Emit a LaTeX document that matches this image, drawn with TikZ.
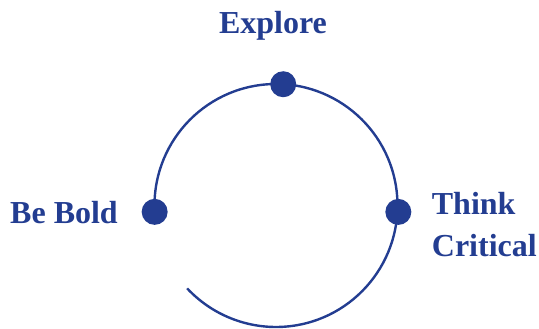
\documentclass[tikz,border=0pt]{standalone}
\usepackage{fontspec}
\setmainfont{Liberation Serif}
\usetikzlibrary{calc}
\definecolor{navy}{RGB}{35,61,145}
\begin{document}
\begin{tikzpicture}[x=1pt,y=1pt,
  dot/.style={circle,fill=navy,draw=none,minimum size=26pt,inner sep=0pt},
  lbl/.style={text=navy,font=\fontsize{32}{38}\selectfont\bfseries,inner sep=0pt},
  ring/.style={draw=navy,line width=2.4pt}]
\useasboundingbox (0,0) rectangle (539,329);
\coordinate (C) at (276,123.5);
\draw[ring] ($(C)+(183:121.5)$) arc[start angle=183,end angle=-137,radius=121.5];
\node[dot] (bold) at ($(C)+(183:121.5)$) {};
\node[dot] (explore) at ($(C)+(86.6:121.5)$) {};
\node[dot] (think) at ($(C)+(-3:122.5)$) {};
\node[lbl,anchor=base] (tExplore) at (273,295.7) {Explore};
\node[lbl,anchor=base west] (tBold) at (10,105.7) {Be Bold};
\node[lbl,anchor=base west] (tThink) at (431.7,114.7) {Think};
\node[lbl,anchor=base west] (tCritical) at (431.7,72.3) {Critical};
\end{tikzpicture}
\end{document}
